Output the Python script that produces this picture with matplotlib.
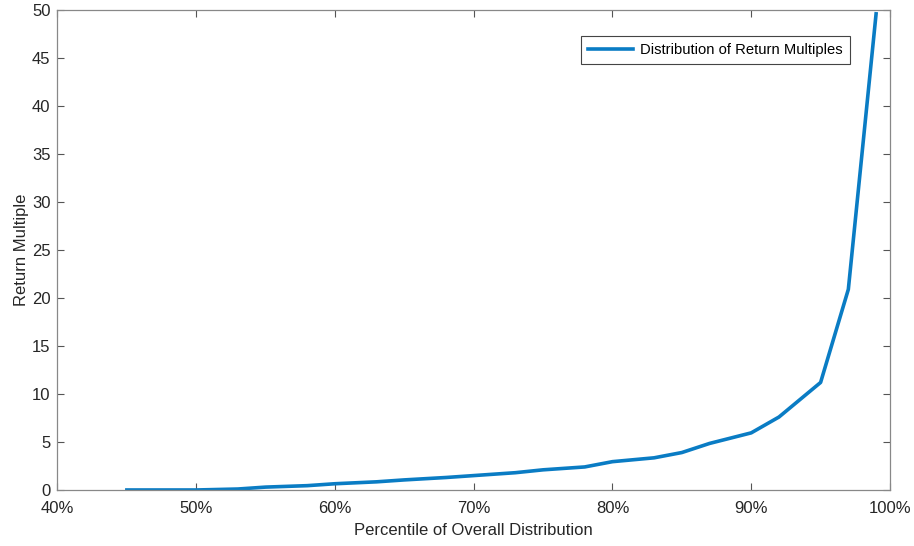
import matplotlib

matplotlib.use("Agg")
import matplotlib.pyplot as plt
from matplotlib.ticker import FuncFormatter

# values
percentiles = [45, 50, 53, 55, 58, 60, 63, 65, 68, 70, 73, 75, 78, 80, 83, 85, 87, 90, 92, 95, 97, 99]
multiples = [0.0, 0.0, 0.1, 0.3, 0.45, 0.65, 0.85, 1.05, 1.3, 1.5, 1.8, 2.1, 2.4, 2.95,
             3.35, 3.9, 4.85, 5.95, 7.6, 11.2, 20.9, 49.6]
x_ticks = [40, 50, 60, 70, 80, 90, 100]
y_ticks = [0, 5, 10, 15, 20, 25, 30, 35, 40, 45, 50]

plt.rcParams["font.family"] = ["Liberation Sans", "DejaVu Sans"]

fig = plt.figure(figsize=(9.14, 5.46), dpi=100)
ax = fig.add_axes([0.0629, 0.1026, 0.9108, 0.8791])

ax.plot(percentiles, multiples, color="#0A7CC4", linewidth=2.6,
        label="Distribution of Return Multiples")

ax.set_xlim(40, 100)
ax.set_ylim(0, 50)
ax.set_xticks(x_ticks)
ax.set_yticks(y_ticks)
ax.xaxis.set_major_formatter(FuncFormatter(lambda v, _: f"{v:.0f}%"))

ax.tick_params(direction="in", top=True, right=True, length=5, width=0.8,
               color="#555555", labelsize=12, labelcolor="#262626")
ax.tick_params(axis="x", pad=8)
ax.tick_params(axis="y", pad=5)
for spine in ax.spines.values():
    spine.set_color("#888888")
    spine.set_linewidth(0.9)

ax.set_xlabel("Percentile of Overall Distribution", fontsize=12, color="#262626", labelpad=5)
ax.set_ylabel("Return Multiple", fontsize=12, color="#262626", labelpad=2)

legend = ax.legend(loc="upper right", bbox_to_anchor=(0.9605, 0.962), fontsize=10.6,
                   fancybox=False, framealpha=1, edgecolor="#444444",
                   handlelength=3.0, handletextpad=0.5, borderpad=0.48)
legend.get_frame().set_linewidth(0.8)

fig.savefig("out.png", dpi=100)
